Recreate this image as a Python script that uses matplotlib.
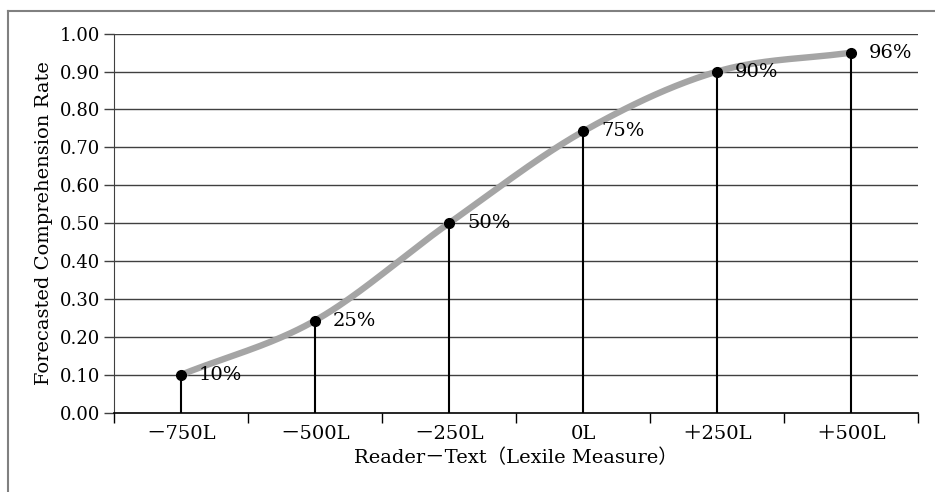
import numpy as np
import matplotlib.pyplot as plt
from matplotlib.lines import Line2D

categories = ['－750L', '－500L', '－250L', '0L', '＋250L', '＋500L']
rates = [0.10, 0.243, 0.50, 0.742, 0.90, 0.95]
point_labels = ['10%', '25%', '50%', '75%', '90%', '96%']
yticks = [0.0, 0.1, 0.2, 0.3, 0.4, 0.5, 0.6, 0.7, 0.8, 0.9, 1.0]

FONT = ['DejaVu Serif', 'Noto Sans CJK JP']
plt.rcParams['font.family'] = FONT


def smooth(xs, ys, n=40):
    # catmull-rom through the points, like a spreadsheet "smoothed line"
    px = np.array(xs, float)
    py = np.array(ys, float)
    px = np.concatenate([[2 * px[0] - px[1]], px, [2 * px[-1] - px[-2]]])
    py = np.concatenate([[2 * py[0] - py[1]], py, [2 * py[-1] - py[-2]]])
    outx, outy = [], []
    t = np.linspace(0, 1, n)
    for i in range(1, len(px) - 2):
        for arr, out in ((px, outx), (py, outy)):
            p0, p1, p2, p3 = arr[i - 1], arr[i], arr[i + 1], arr[i + 2]
            out.extend(0.5 * (2 * p1 + (-p0 + p2) * t
                              + (2 * p0 - 5 * p1 + 4 * p2 - p3) * t ** 2
                              + (-p0 + 3 * p1 - 3 * p2 + p3) * t ** 3))
    return outx, outy


fig = plt.figure(figsize=(9.35, 4.92), dpi=100)
ax = fig.add_axes([114 / 935, 1 - 412.7 / 492, 804 / 935, 379 / 492])

x = np.arange(len(categories))
ax.set_xlim(-0.5, len(categories) - 0.5)
ax.set_ylim(0, 1.0)

for yv in yticks[1:]:
    ax.axhline(yv, color='#404040', lw=1.0, zorder=1)

ax.vlines(x, 0, rates, color='black', lw=1.5, zorder=2)
sx, sy = smooth(x, rates)
ax.plot(sx, sy, color='#a5a5a5', lw=4.6, solid_capstyle='butt', zorder=3)
ax.plot(x, rates, 'o', color='black', ms=7, zorder=4)

for xi, yi, lab in zip(x, rates, point_labels):
    ax.annotate(lab, (xi, yi), xytext=(13, 0), textcoords='offset points',
                ha='left', va='center', fontsize=14, zorder=5)

ax.set_yticks(yticks)
ax.set_yticklabels([f'{v:.2f}' for v in yticks], fontsize=13)
ax.set_xticks(x)
ax.set_xticklabels(categories, fontsize=14)
ax.set_xticks(np.arange(-0.5, len(categories), 1.0), minor=True)
ax.tick_params(axis='x', which='major', length=0, pad=9)
ax.tick_params(axis='x', which='minor', length=7, width=1, color='black')
ax.tick_params(axis='y', length=7, width=1, color='#404040', pad=3)

for s in ('top', 'right'):
    ax.spines[s].set_visible(False)
ax.spines['left'].set_color('#404040')
ax.spines['bottom'].set_color('black')
ax.spines['bottom'].set_linewidth(1.2)

ax.set_ylabel('Forecasted Comprehension Rate', fontsize=14, labelpad=5)
ax.set_xlabel('Reader－Text（Lexile Measure）', fontsize=14, labelpad=4)

# outer frame (only top and left show)
fig.add_artist(Line2D([8 / 935, 1], [1 - 11 / 492] * 2, color='#808080', lw=1.5))
fig.add_artist(Line2D([8 / 935] * 2, [0, 1 - 11 / 492], color='#808080', lw=1.5))

fig.savefig('out.png', dpi=100)
